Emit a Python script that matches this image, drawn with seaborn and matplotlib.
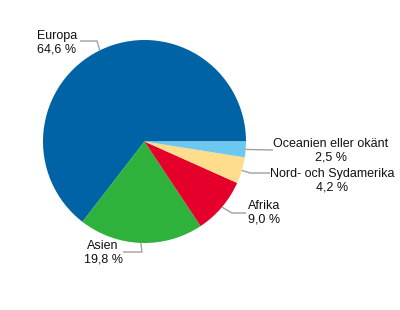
import numpy as np
import matplotlib
matplotlib.use("Agg")
import matplotlib.pyplot as plt
import seaborn as sns

categories = ["Europa", "Asien", "Afrika", "Nord- och Sydamerika", "Oceanien eller okänt"]
values = [64.6, 19.8, 9.0, 4.2, 2.5]
value_labels = ["64,6 %", "19,8 %", "9,0 %", "4,2 %", "2,5 %"]
colors = ["#0063A6", "#2EB23B", "#E4002B", "#FFDD8C", "#6DC8F0"]

sns.set_theme(style="white")
plt.rcParams["font.family"] = ["Liberation Sans", "DejaVu Sans"]

W, H = 400, 310
fig = plt.figure(figsize=(4.0, 3.1), dpi=100)
ax = fig.add_axes([0, 0, 1, 1])
ax.set_xlim(0, W)
ax.set_ylim(0, H)
ax.set_aspect("equal")
ax.axis("off")

def Y(y):
    return H - y

cx, cy, r = 144.5, 141.5, 101.5
wedges, _ = ax.pie(values, colors=colors, startangle=0, counterclock=True,
                   center=(cx, Y(cy)), radius=r, frame=True,
                   wedgeprops=dict(linewidth=0))
ax.set_xlim(0, W)
ax.set_ylim(0, H)
ax.axis("off")

# layout for leader lines: elbow points, line end, text center (image coords)
layout = {
    "Europa": dict(pts=[(97, 41), (80, 41)], text=(57, 42.5)),
    "Asien": dict(pts=[(142, 252), (123, 252)], text=(103, 252.5)),
    "Afrika": dict(pts=[(232, 213), (246, 213)], text=(264, 213)),
    "Nord- och Sydamerika": dict(pts=[(250, 173), (270, 173)], text=(332, 180.5)),
    "Oceanien eller okänt": dict(pts=[(273, 150)], text=(331, 150.5)),
}

for w, cat, vl in zip(wedges, categories, value_labels):
    mid = np.deg2rad((w.theta1 + w.theta2) / 2)
    ax0 = cx + r * np.cos(mid)
    ay0 = Y(cy) + r * np.sin(mid)
    L = layout[cat]
    xs = [ax0] + [p[0] for p in L["pts"]]
    ys = [ay0] + [Y(p[1]) for p in L["pts"]]
    ax.plot(xs, ys, color="#A0A0A0", lw=1.0, solid_capstyle="butt")
    tx, ty = L["text"]
    ax.text(tx, Y(ty), f"{cat}\n{vl}", ha="center", va="center",
            fontsize=9, color="#111111", linespacing=1.2, multialignment="center")

fig.savefig("out.png", dpi=100)
